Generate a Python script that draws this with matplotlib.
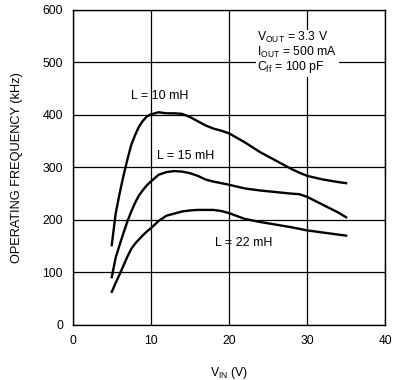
import matplotlib
matplotlib.use("Agg")
import matplotlib.pyplot as plt

plt.rcParams['font.family'] = ['Liberation Sans', 'DejaVu Sans']
plt.rcParams['mathtext.fontset'] = 'custom'
plt.rcParams['mathtext.rm'] = 'Liberation Sans'

# input voltage (V)
vin = [5, 5.5, 6, 6.5, 7, 7.5, 8, 8.5, 9, 9.5, 10, 11, 12, 13, 14, 15, 16, 17,
       18, 19, 20, 22, 24, 26, 28, 29, 30, 32, 34, 35]
# operating frequency (kHz) for each inductor
f_10mh = [152, 212, 250, 284, 315, 343, 362, 378, 389, 397, 401, 405, 403, 403,
          402, 396, 388, 380, 374, 370, 365, 348, 329, 313, 297, 290, 284, 277, 272, 270]
f_15mh = [91, 128, 152, 175, 197, 216, 233, 247, 257, 266, 273, 286, 291, 293,
          292, 289, 284, 277, 273, 270, 267, 260, 256, 253, 250, 249, 244, 229, 214, 205]
f_22mh = [63, 80, 96, 113, 130, 145, 155, 163, 171, 178, 184, 198, 208, 212,
          216, 218, 219, 219, 219, 217, 213, 202, 196, 191, 186, 183, 180, 176, 172, 170]

labels = ['L = 10 mH', 'L = 15 mH', 'L = 22 mH']
label_pos = [(7.5, 436), (10.8, 322), (18.2, 156)]

fig = plt.figure(figsize=(3.93, 3.80), dpi=100)
ax = fig.add_axes([0.185, 0.145, 0.795, 0.829])

for f in (f_10mh, f_15mh, f_22mh):
    ax.plot(vin, f, color='black', lw=1.7, zorder=3)

for txt, (x, y) in zip(labels, label_pos):
    ax.text(x, y, txt, fontsize=9, va='center', ha='left', zorder=4)

ax.text(23.6, 518,
        'V$_{\\mathregular{OUT}}$ = 3.3 V\n'
        'I$_{\\mathregular{OUT}}$ = 500 mA\n'
        'C$_{\\mathregular{ff}}$ = 100 pF',
        fontsize=8.8, va='center', ha='left', linespacing=0.95, zorder=4,
        bbox=dict(facecolor='white', edgecolor='none', pad=1))

ax.set_xlim(0, 40)
ax.set_ylim(0, 600)
ax.set_xticks([0, 10, 20, 30, 40])
ax.set_yticks([0, 100, 200, 300, 400, 500, 600])
ax.grid(True, color='black', lw=0.9)
ax.tick_params(length=0, labelsize=8.8, pad=7)
for s in ax.spines.values():
    s.set_linewidth(1.0)

ax.set_xlabel('V$_{\\mathregular{IN}}$ (V)', fontsize=8.8, labelpad=13)
ax.set_ylabel('OPERATING FREQUENCY (kHz)', fontsize=9.2, labelpad=14)

fig.savefig('out.png', dpi=100)
